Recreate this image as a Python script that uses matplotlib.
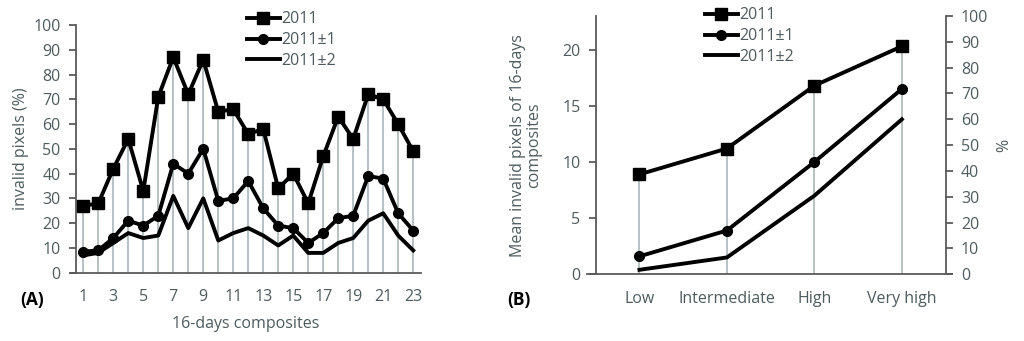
import matplotlib
matplotlib.use("Agg")
import matplotlib.pyplot as plt
from matplotlib.lines import Line2D
import numpy as np

# ---- data ----
composites = list(range(1, 24))
a_2011 = [27, 28, 42, 54, 33, 71, 87, 72, 86, 65, 66, 56, 58, 34, 40, 28, 47, 63, 54, 72, 70, 60, 49]
a_2011_1 = [8.5, 9, 14, 21, 19, 23, 44, 40, 50, 29, 30, 37, 26, 19, 18, 12, 16, 22, 23, 39, 38, 24, 17]
a_2011_2 = [7, 8, 12, 16, 14, 15, 31, 18, 30, 13, 16, 18, 15, 11, 15, 8, 8, 12, 14, 21, 24, 15, 9]

classes = ["Low", "Intermediate", "High", "Very high"]
b_2011 = [8.9, 11.2, 16.8, 20.3]
b_2011_1 = [1.6, 3.9, 10.0, 16.5]
b_2011_2 = [0.4, 1.5, 7.0, 13.8]

series_names = ["2011", "2011±1", "2011±2"]
a_ticks = [1, 3, 5, 7, 9, 11, 13, 15, 17, 19, 21, 23]

TXT = "#4e5b5f"
SPINE = "#5a5a5a"
DROP = "#a9b6ba"
FS = 11.5

plt.rcParams['font.family'] = ['Open Sans', 'DejaVu Sans']

fig = plt.figure(figsize=(10.24, 3.41), dpi=100)
W, H = 1024, 341

def ax_at(x0, y0, x1, y1):
    return fig.add_axes([x0 / W, 1 - y1 / H, (x1 - x0) / W, (y1 - y0) / H])

def style_common(ax):
    for s in ["top", "right"]:
        ax.spines[s].set_visible(False)
    for s in ["left", "bottom"]:
        ax.spines[s].set_color(SPINE)
        ax.spines[s].set_linewidth(1.3)
    ax.tick_params(axis='both', colors=SPINE, labelcolor=TXT, labelsize=FS)
    ax.tick_params(axis='x', length=0, pad=12)
    ax.tick_params(axis='y', length=5, width=1.3, pad=6)

def plot_series(ax, x, s1, s2, s3):
    x = np.asarray(x)
    ax.vlines(x, 0, s1, colors=DROP, linewidth=1.2, zorder=1)
    ax.plot(x, s1, color='black', lw=2.8, marker='s', ms=8, zorder=3)
    ax.plot(x, s2, color='black', lw=2.8, marker='o', ms=7, zorder=3)
    ax.plot(x, s3, color='black', lw=2.8, zorder=3)

def legend(ax, loc):
    handles = [Line2D([], [], color='black', lw=2.8, marker='s', ms=8),
               Line2D([], [], color='black', lw=2.8, marker='o', ms=7),
               Line2D([], [], color='black', lw=2.8)]
    leg = ax.legend(handles, series_names, loc='upper left', bbox_to_anchor=loc,
                    frameon=False, fontsize=FS, handlelength=2.05, handletextpad=0.1,
                    labelspacing=0.3, borderaxespad=0, borderpad=0)
    for t in leg.get_texts():
        t.set_color(TXT)

# ---- panel A ----
axA = ax_at(70.7, 25, 420.7, 272.7)
plot_series(axA, composites, a_2011, a_2011_1, a_2011_2)
axA.set_xlim(0.16, 23.5)
axA.set_ylim(0, 100)
axA.set_yticks(range(0, 101, 10))
axA.set_xticks(a_ticks)
style_common(axA)
axA.spines['left'].set_position(('data', 0.5))
axA.set_ylabel("invalid pixels (%)", color=TXT, fontsize=FS)
axA.yaxis.set_label_coords(-0.118, 0.5)
axA.set_xlabel("16-days composites", color=TXT, fontsize=FS, labelpad=8)
legend(axA, (0.504, 1.055))
fig.text(20 / W, 1 - 300 / H, "(A)", fontsize=12.5, fontweight='bold', va='center', ha='left')

# ---- panel B ----
axB = ax_at(587, 16, 951.7, 274.3)
xb = np.arange(len(classes))
plot_series(axB, xb, b_2011, b_2011_1, b_2011_2)
axB.set_xlim(-0.6, 3.57)
axB.set_ylim(0, 23)
axB.set_yticks([0, 5, 10, 15, 20])
axB.set_xticks(xb)
axB.set_xticklabels(classes)
style_common(axB)
axB.spines['left'].set_position(('data', -0.5))
axB.set_ylabel("Mean invalid pixels of 16-days\ncomposites", color=TXT, fontsize=FS,
               linespacing=1.0)
axB.yaxis.set_label_coords(-0.123, 0.5)
axB2 = axB.twinx()
axB2.set_ylim(0, 100)
axB2.set_yticks(range(0, 101, 10))
for s in ["top", "left", "bottom"]:
    axB2.spines[s].set_visible(False)
axB2.spines['right'].set_position(('data', 3.5))
axB2.spines['right'].set_color(SPINE)
axB2.spines['right'].set_linewidth(1.3)
axB2.tick_params(axis='y', colors=SPINE, labelcolor=TXT, labelsize=FS, length=5, width=1.3, pad=6)
axB2.set_ylabel("%", color=TXT, fontsize=FS)
axB2.yaxis.set_label_coords(1.123, 0.5)
legend(axB, (0.3236, 1.033))
fig.text(507 / W, 1 - 300 / H, "(B)", fontsize=12.5, fontweight='bold', va='center', ha='left')

fig.savefig("out.png", dpi=100)
